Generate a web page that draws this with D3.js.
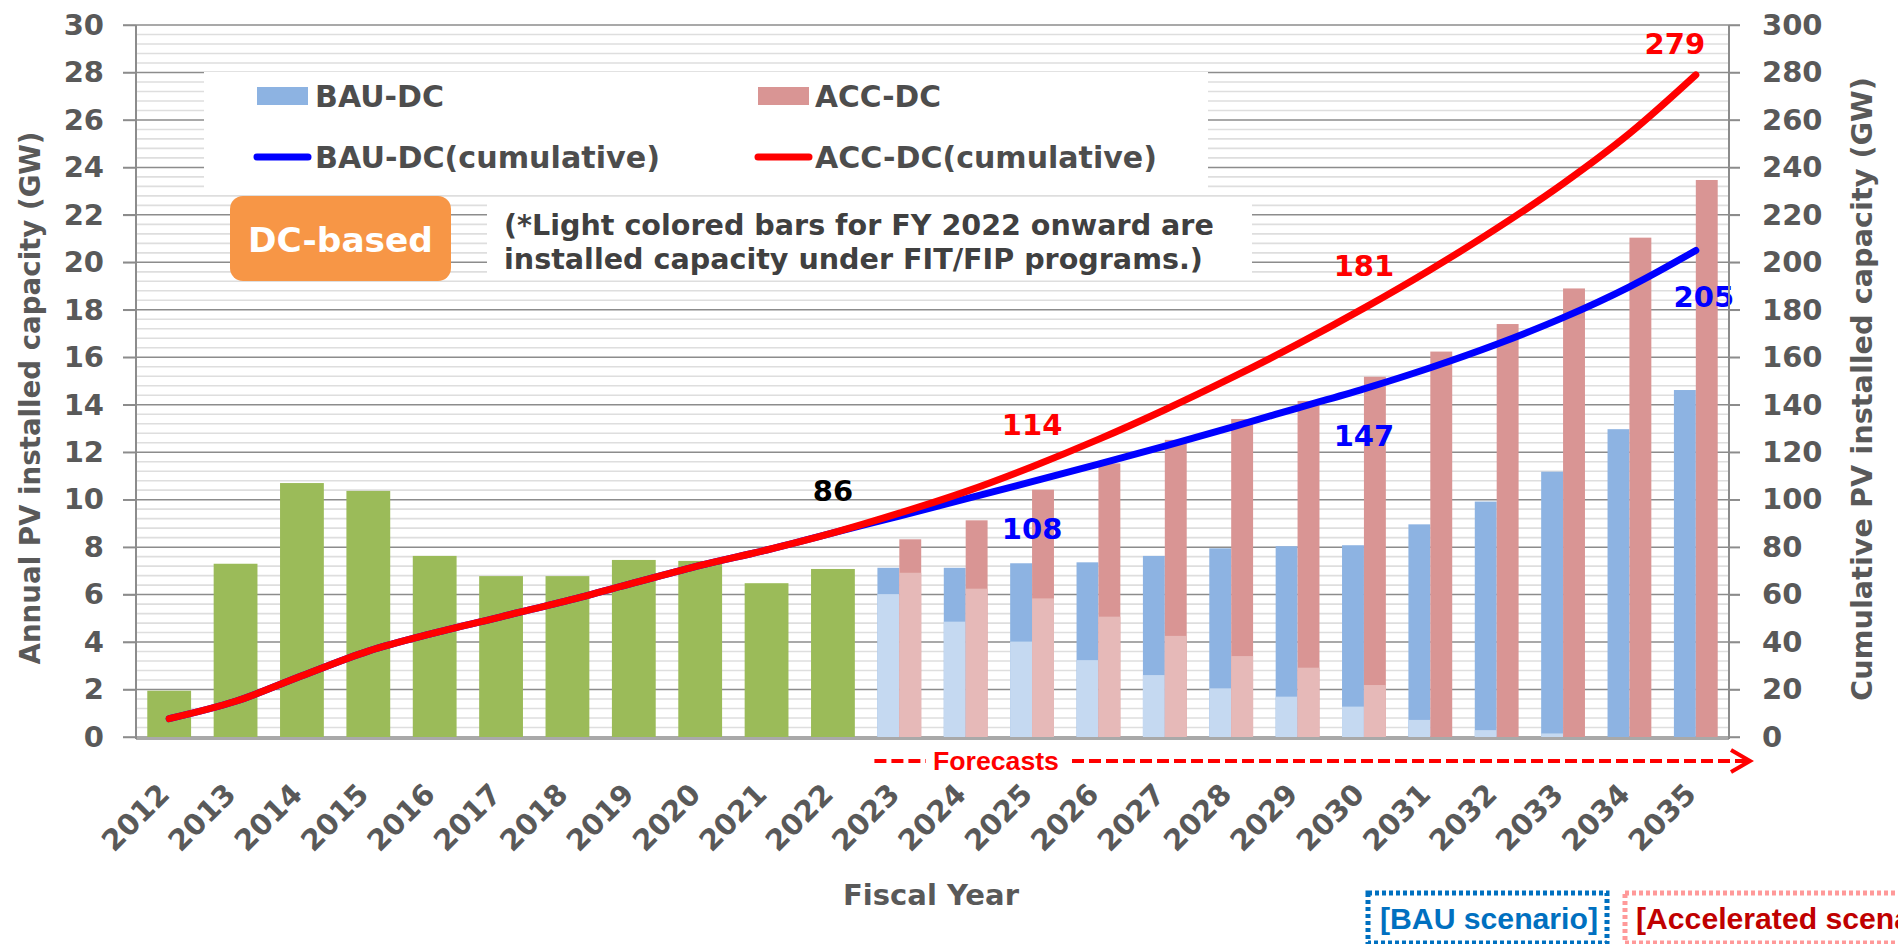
<!DOCTYPE html>
<html>
<head>
<meta charset="utf-8">
<script src="https://cdn.jsdelivr.net/npm/d3@7"></script>
<style>
  body { margin: 0; background: #fff; }
  svg { display: block; }
</style>
</head>
<body>
<svg id="svg" width="1898" height="944"></svg>
<script>
// ---- data ----
const years = ["2012","2013","2014","2015","2016","2017","2018","2019","2020","2021","2022",
  "2023","2024","2025","2026","2027","2028","2029","2030","2031","2032","2033","2034","2035"];
const histYears = years.slice(0, 11);
const fcYears = years.slice(11);

// annual installs FY2012-2022 (GW)
const histAnnual = [1.95, 7.3, 10.7, 10.37, 7.63, 6.78, 6.78, 7.46, 7.42, 6.48, 7.08];
// forecasts FY2023-2035 (GW), total and light (FIT/FIP) part
const bauAnnual = [7.13, 7.13, 7.32, 7.36, 7.63, 7.95, 8.04, 8.08, 8.96, 9.92, 11.18, 12.97, 14.62];
const bauFit    = [6.02, 4.86, 4.02, 3.24, 2.61, 2.05, 1.70, 1.28, 0.72, 0.29, 0.15, 0, 0];
const accAnnual = [8.33, 9.13, 10.42, 11.53, 12.52, 13.4, 14.16, 15.18, 16.24, 17.4, 18.9, 21.04, 23.47];
const accFit    = [6.92, 6.25, 5.84, 5.07, 4.26, 3.41, 2.92, 2.19, 0, 0, 0, 0, 0];

// cumulative (GW)
const histCum = [7.75, 15.05, 25.8, 36.2, 43.85, 50.65, 57.45, 64.9, 72.3, 78.8, 86.0];
const bauCum  = [93.1, 100.3, 107.6, 115.0, 122.6, 130.5, 138.6, 146.7, 155.6, 165.5, 176.7, 189.7, 205];
const accCum  = [94.3, 103.4, 113.9, 125.4, 137.9, 151.3, 165.5, 180.7, 196.9, 214.3, 233.2, 254.3, 279];

const leftTicks = d3.range(0, 31, 2);
const rightTicks = d3.range(0, 301, 20);

// which points get a value label
const cumLabels = [
  {year: "2022", series: "hist"},
  {year: "2025", series: "bau"}, {year: "2025", series: "acc"},
  {year: "2030", series: "bau"}, {year: "2030", series: "acc"},
  {year: "2035", series: "bau"}, {year: "2035", series: "acc"}
];

// ---- layout ----
const X0 = 136, X1 = 1729, Y0 = 737, Y1 = 25;
const TXT = "#595959";
const C = {
  green: "#9BBB59", bau: "#8DB3E2", bauLight: "#C5D9F1",
  acc: "#D99594", accLight: "#E6B9B8", blue: "#0000FF", red: "#FF0000"
};
const SANS = "'DejaVu Sans', Verdana, sans-serif";
const ARIAL = "'Liberation Sans', Arial, sans-serif";

const svg = d3.select("#svg");

const x = d3.scaleBand().domain(years).range([X0, X1]).paddingInner(0.34).paddingOuter(0.17);
const yL = d3.scaleLinear().domain([0, 30]).range([Y0, Y1]);
const yR = d3.scaleLinear().domain([0, 300]).range([Y0, Y1]);
const cx = d => x(d) + x.bandwidth() / 2;

function fit(sel, w) {
  const size = parseFloat(sel.attr("font-size"));
  const len = sel.node().getComputedTextLength();
  sel.attr("font-size", (size * w / len).toFixed(2));
  return sel;
}

// ---- gridlines ----
const grid = svg.append("g");
const minor = d3.range(0, 30.01, 0.4).filter(v => Math.abs(v / 2 - Math.round(v / 2)) > 0.01);
grid.selectAll("line.minor").data(minor).join("line")
  .attr("x1", X0).attr("x2", X1)
  .attr("y1", d => yL(d)).attr("y2", d => yL(d))
  .attr("stroke", "#dedede").attr("stroke-width", 1.6);
grid.selectAll("line.major").data(leftTicks).join("line")
  .attr("x1", 123).attr("x2", 1740)
  .attr("y1", d => yL(d)).attr("y2", d => yL(d))
  .attr("stroke", "#8c8c8c").attr("stroke-width", 1.5);

// ---- bars ----
const bars = svg.append("g");
bars.selectAll("rect.hist").data(histYears).join("rect")
  .attr("x", d => x(d)).attr("width", x.bandwidth())
  .attr("y", (d, i) => yL(histAnnual[i]))
  .attr("height", (d, i) => Y0 - yL(histAnnual[i]))
  .attr("fill", C.green);

const half = x.bandwidth() / 2;
function pairBars(tot, lite, dx, dark, light) {
  bars.append("g").selectAll("rect").data(fcYears).join("rect")
    .attr("x", d => x(d) + dx).attr("width", half)
    .attr("y", (d, i) => yL(tot[i]))
    .attr("height", (d, i) => Y0 - yL(tot[i]))
    .attr("fill", dark);
  bars.append("g").selectAll("rect").data(fcYears).join("rect")
    .attr("x", d => x(d) + dx).attr("width", half)
    .attr("y", (d, i) => yL(lite[i]))
    .attr("height", (d, i) => Y0 - yL(lite[i]))
    .attr("fill", light);
}
pairBars(bauAnnual, bauFit, 0, C.bau, C.bauLight);
pairBars(accAnnual, accFit, half, C.acc, C.accLight);

// ---- cumulative lines ----
const line = d3.line().x(d => cx(d.year)).y(d => yR(d.v)).curve(d3.curveCatmullRom.alpha(0.5));
const histPts = histYears.map((y, i) => ({year: y, v: histCum[i]}));
const bauPts = histPts.concat(fcYears.map((y, i) => ({year: y, v: bauCum[i]})));
const accPts = histPts.concat(fcYears.map((y, i) => ({year: y, v: accCum[i]})));
svg.append("path").attr("d", line(bauPts)).attr("fill", "none")
  .attr("stroke", C.blue).attr("stroke-width", 7).attr("stroke-linecap", "round").attr("stroke-linejoin", "round");
svg.append("path").attr("d", line(accPts)).attr("fill", "none")
  .attr("stroke", C.red).attr("stroke-width", 7).attr("stroke-linecap", "round").attr("stroke-linejoin", "round");

// value labels
const labelStyle = {
  hist: {color: "#000", dx: 0, dy: -42},
  bau: {color: C.blue, dx: 0, dy: 47},
  acc: {color: C.red, dx: 0, dy: -42}
};
const lastShift = {bau: {dx: 8, dy: 47}, acc: {dx: -21, dy: -31}};
svg.append("g").selectAll("text").data(cumLabels).join("text")
  .each(function (d) {
    const pts = d.series === "bau" ? bauPts : d.series === "acc" ? accPts : histPts;
    const p = pts.find(q => q.year === d.year);
    let st = Object.assign({}, labelStyle[d.series]);
    if (d.year === "2035") Object.assign(st, lastShift[d.series]);
    d3.select(this)
      .attr("x", cx(d.year) + st.dx).attr("y", yR(p.v) + st.dy)
      .attr("fill", st.color).text(d3.format(".0f")(p.v));
  })
  .attr("text-anchor", "middle").attr("dominant-baseline", "central")
  .attr("font-family", SANS).attr("font-weight", "bold").attr("font-size", 29);

// ---- axes ----
const axL = svg.append("g").attr("transform", `translate(${X0},0)`)
  .call(d3.axisLeft(yL).tickValues(leftTicks).tickSize(13).tickPadding(19));
const axR = svg.append("g").attr("transform", `translate(${X1},0)`)
  .call(d3.axisRight(yR).tickValues(rightTicks).tickSize(11).tickPadding(22));
[axL, axR].forEach(a => {
  a.select(".domain").remove();
  a.selectAll(".tick line").attr("stroke", "#8c8c8c").attr("stroke-width", 1.5);
  a.selectAll("text").attr("font-family", SANS).attr("font-weight", "bold")
    .attr("font-size", 29).attr("fill", TXT);
});
svg.append("line").attr("x1", X0).attr("x2", X0).attr("y1", Y1).attr("y2", Y0 + 2)
  .attr("stroke", "#8c8c8c").attr("stroke-width", 2);
svg.append("line").attr("x1", X1).attr("x2", X1).attr("y1", Y1).attr("y2", Y0 + 2)
  .attr("stroke", "#8c8c8c").attr("stroke-width", 2);
svg.append("line").attr("x1", X0).attr("x2", X1).attr("y1", Y0 + 2).attr("y2", Y0 + 2)
  .attr("stroke", "#8c8c8c").attr("stroke-width", 1.5);

const axB = svg.append("g").attr("transform", `translate(0,${Y0})`)
  .call(d3.axisBottom(x).tickSize(0));
axB.select(".domain").remove();
axB.selectAll("text")
  .attr("x", 0).attr("y", 0).attr("dy", 0)
  .attr("transform", "translate(2,59) rotate(-45)")
  .attr("text-anchor", "end")
  .attr("font-family", SANS).attr("font-weight", "bold").attr("font-size", 29).attr("fill", TXT);

// axis titles
fit(svg.append("text").attr("transform", "translate(40,398) rotate(-90)")
  .attr("text-anchor", "middle").attr("font-family", SANS).attr("font-weight", "bold")
  .attr("font-size", 28).attr("fill", TXT).text("Annual PV installed capacity (GW)"), 533);
fit(svg.append("text").attr("transform", "translate(1872,389) rotate(-90)")
  .attr("text-anchor", "middle").attr("font-family", SANS).attr("font-weight", "bold")
  .attr("font-size", 28).attr("fill", TXT).text("Cumulative PV installed capacity (GW)"), 624);
fit(svg.append("text").attr("x", 931).attr("y", 905)
  .attr("text-anchor", "middle").attr("font-family", SANS).attr("font-weight", "bold")
  .attr("font-size", 28).attr("fill", TXT).text("Fiscal Year"), 176);

// ---- legend ----
svg.append("rect").attr("x", 204).attr("y", 72).attr("width", 1004).attr("height", 117).attr("fill", "#fff");
const legendItems = [
  {label: "BAU-DC", kind: "rect", color: C.bau, lx: 257, tx: 315, ty: 107, w: 129},
  {label: "ACC-DC", kind: "rect", color: C.acc, lx: 758, tx: 815, ty: 107, w: 126},
  {label: "BAU-DC(cumulative)", kind: "line", color: C.blue, lx: 257, tx: 315, ty: 168, w: 345},
  {label: "ACC-DC(cumulative)", kind: "line", color: C.red, lx: 758, tx: 815, ty: 168, w: 342}
];
legendItems.forEach(d => {
  if (d.kind === "rect") {
    svg.append("rect").attr("x", d.lx).attr("y", d.ty - 20).attr("width", 51).attr("height", 18).attr("fill", d.color);
  } else {
    svg.append("line").attr("x1", d.lx).attr("x2", d.lx + 51).attr("y1", d.ty - 11).attr("y2", d.ty - 11)
      .attr("stroke", d.color).attr("stroke-width", 7).attr("stroke-linecap", "round");
  }
  fit(svg.append("text").attr("x", d.tx).attr("y", d.ty)
    .attr("font-family", SANS).attr("font-weight", "bold").attr("font-size", 30)
    .attr("fill", "#4d4d4d").text(d.label), d.w);
});

// ---- DC-based tag and note ----
svg.append("rect").attr("x", 230).attr("y", 196).attr("width", 221).attr("height", 85)
  .attr("rx", 13).attr("fill", "#F79646");
fit(svg.append("text").attr("x", 340.5).attr("y", 240).attr("text-anchor", "middle")
  .attr("dominant-baseline", "central").attr("font-family", SANS).attr("font-weight", "bold")
  .attr("font-size", 34).attr("fill", "#fff").text("DC-based"), 185);

svg.append("rect").attr("x", 487).attr("y", 200).attr("width", 765).attr("height", 80).attr("fill", "#fff");
const note1 = fit(svg.append("text").attr("x", 504).attr("y", 235)
  .attr("font-family", SANS).attr("font-weight", "bold").attr("font-size", 28).attr("fill", "#404040")
  .text("(*Light colored bars for FY 2022 onward are"), 710);
svg.append("text").attr("x", 504).attr("y", 269)
  .attr("font-family", SANS).attr("font-weight", "bold").attr("font-size", note1.attr("font-size"))
  .attr("fill", "#404040").text("installed capacity under FIT/FIP programs.)");

// ---- forecasts arrow ----
const fy = 761, fStart = x("2023") - 3, fEnd = X1 + 21;
const fc = svg.append("g").attr("stroke", C.red).attr("stroke-width", 4).attr("fill", "none");
fc.append("line").attr("x1", fStart).attr("x2", 926).attr("y1", fy).attr("y2", fy).attr("stroke-dasharray", "12,5");
fc.append("line").attr("x1", 1072).attr("x2", fEnd - 2).attr("y1", fy).attr("y2", fy).attr("stroke-dasharray", "12,5");
fc.append("path").attr("d", `M${fEnd - 19},${fy - 11} L${fEnd},${fy} L${fEnd - 19},${fy + 11}`)
  .attr("stroke-linejoin", "miter");
fit(svg.append("text").attr("x", 933).attr("y", fy + 9)
  .attr("font-family", ARIAL).attr("font-weight", "bold").attr("font-size", 26)
  .attr("fill", C.red).text("Forecasts"), 126);

// ---- scenario tags ----
svg.append("rect").attr("x", 1368).attr("y", 893).attr("width", 239).attr("height", 50)
  .attr("fill", "none").attr("stroke", "#0070C0").attr("stroke-width", 5).attr("stroke-dasharray", "4,3");
const sc1 = fit(svg.append("text").attr("x", 1380).attr("y", 929)
  .attr("font-family", ARIAL).attr("font-weight", "bold").attr("font-size", 28)
  .attr("fill", "#0070C0").text("[BAU scenario]"), 218);
svg.append("rect").attr("x", 1625).attr("y", 893).attr("width", 320).attr("height", 50)
  .attr("fill", "none").attr("stroke", "#FF9999").attr("stroke-width", 5).attr("stroke-dasharray", "4,3");
svg.append("text").attr("x", 1636).attr("y", 929)
  .attr("font-family", ARIAL).attr("font-weight", "bold").attr("font-size", sc1.attr("font-size"))
  .attr("fill", "#C00000").text("[Accelerated scenario]");
</script>
</body>
</html>
